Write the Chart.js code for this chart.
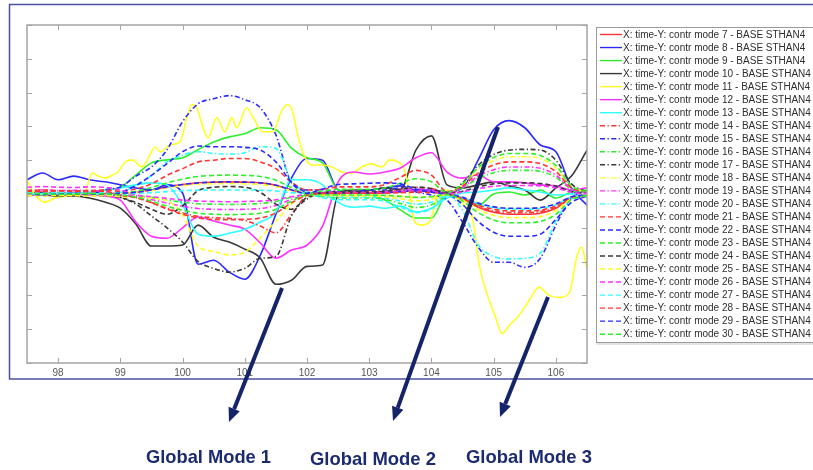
<!DOCTYPE html>
<html lang="en">
<head>
<meta charset="UTF-8">
<title>Contribution modes 7-30 - BASE STHAN4</title>
<script src="https://cdn.jsdelivr.net/npm/chart.js"></script>
<style>
  html, body { margin: 0; padding: 0; background: #fff; }
  .wrap { width: 813px; height: 470px; }
</style>
</head>
<body>
<div class="wrap"><canvas id="modesChart" width="813" height="470"></canvas></div>
<script>
// shared time axis (step 0.25)
const timeGrid = [97.5, 97.75, 98, 98.25, 98.5, 98.75, 99, 99.25, 99.5, 99.75, 100, 100.25, 100.5,
  100.75, 101, 101.25, 101.5, 101.75, 102, 102.25, 102.5, 102.75, 103, 103.25, 103.5, 103.75,
  104, 104.25, 104.5, 104.75, 105, 105.25, 105.5, 105.75, 106, 106.25, 106.5];
const xTicks = [98, 99, 100, 101, 102, 103, 104, 105, 106];
const yTicks = [-5, -4, -3, -2, -1, 0, 1, 2, 3, 4, 5];
const modeNumbers = [7, 8, 9, 10, 11, 12, 13, 14, 15, 16, 17, 18, 19, 20, 21, 22, 23, 24, 25, 26, 27, 28, 29, 30];

const mode7 = [0.02,0.03,0.0,0.02,0.03,0.01,0.02,0.05,0.12,0.21,0.28,0.33,0.35,0.36,0.35,0.33,0.26,0.12,0.02,0.02,0.03,0.03,0.03,0.04,0.07,0.1,0.08,0.01,-0.15,-0.39,-0.54,-0.6,-0.6,-0.57,-0.42,-0.12,-0.03];
const mode8 = [0.42,0.62,0.42,0.53,0.42,0.36,0.27,0.18,0.12,0.27,0.03,-2.08,-1.96,-2.31,-2.52,-1.81,-0.6,0.47,1.05,1.0,0.12,0.06,0.12,0.18,0.24,0.12,0.12,0.06,0.18,1.0,1.9,2.17,1.96,1.45,1.25,0.18,-0.33];
const mode9 = [0.03,0.03,0.0,0.0,0.03,0.12,0.2,0.56,0.92,1.01,1.07,1.31,1.54,1.69,1.78,1.96,1.9,1.36,1.07,0.92,0.12,0.06,-0.03,-0.18,-0.47,-0.71,-0.71,-0.03,-0.12,-0.33,0.0,0.06,-0.03,0.12,-0.12,0.06,0.12];
const mode10 = [-0.03,-0.03,-0.06,-0.06,-0.12,-0.24,-0.42,-0.89,-1.54,-1.54,-1.51,-0.92,-1.28,-1.42,-1.63,-1.9,-2.67,-2.55,-2.14,-2.1,-0.03,0.12,0.12,0.18,0.12,1.3,1.72,0.27,0.18,0.27,0.36,0.24,0.12,-0.18,0.18,0.53,1.3];
// mode 11 is read on its own, finer time points
const mode11Time = [97.5,97.63,97.79,97.95,98.27,98.43,98.55,98.64,98.76,98.87,98.96,99.08,99.19,99.35,99.45,99.56,99.64,99.8,99.96,100.07,100.15,100.23,100.33,100.41,100.55,100.68,100.79,100.87,101.03,101.13,101.29,101.45,101.6,101.69,101.77,101.85,101.97,102.08,102.24,102.4,102.56,102.72,102.88,103.04,103.2,103.33,103.46,103.57,103.65,103.73,103.84,103.97,104.08,104.21,104.37,104.53,104.66,104.77,104.89,105.02,105.14,105.25,105.41,105.57,105.73,105.89,106.05,106.22,106.33,106.41,106.5];
const mode11 = [0.42,-0.03,-0.24,-0.12,-0.03,0.06,0.62,0.53,0.47,0.56,0.65,0.95,1.01,0.8,1.07,1.39,1.25,1.45,1.54,2.26,2.64,2.55,1.96,1.66,2.26,1.84,2.26,1.96,2.55,2.28,1.84,1.84,2.49,2.64,2.43,1.75,1.07,0.86,0.86,0.8,0.65,0.62,0.8,0.89,0.8,1.01,0.95,0.71,-0.03,-0.83,-0.92,-0.83,-0.18,0.12,-0.03,-0.33,-0.71,-2.11,-2.94,-3.59,-4.13,-3.89,-3.59,-3.15,-2.76,-3.0,-3.06,-2.91,-1.9,-1.57,-2.2];
const mode12 = [-0.03,-0.03,0.0,0.0,-0.03,-0.06,-0.18,-0.83,-1.25,-1.31,-1.0,-0.68,-0.8,-0.92,-1.04,-1.45,-1.9,-1.66,-1.51,-0.95,0.36,0.65,0.59,0.65,0.77,1.07,1.22,0.65,0.47,0.56,0.36,0.36,0.33,0.27,0.24,0.12,0.18];
const mode13 = [0.0,0.0,0.03,0.03,0.06,0.12,0.18,0.27,0.33,0.27,-0.33,-1.19,-1.25,-1.16,-1.04,-0.83,-0.53,0.42,0.42,0.27,-0.24,-0.39,-0.36,-0.42,-0.36,-0.53,-0.42,-0.12,0.03,0.06,0.12,0.18,0.12,0.06,-0.03,0.0,0.06];
const mode14 = [0.05,0.06,0.04,0.05,0.06,0.05,-0.03,-0.1,-0.25,-0.42,-0.56,-0.66,-0.7,-0.72,-0.78,-0.95,-1.15,-0.6,-0.05,0.04,0.06,0.06,0.06,0.08,0.14,0.2,0.16,0.02,-0.14,-0.36,-0.5,-0.55,-0.55,-0.52,-0.39,-0.11,-0.03];
const mode15 = [0.03,0.03,0.03,0.0,0.0,0.12,0.21,0.53,0.8,1.31,2.14,2.67,2.82,2.91,2.79,2.55,1.75,0.33,0.12,0.12,0.06,0.06,0.12,0.12,0.18,0.06,-0.03,-0.18,-0.83,-1.57,-2.02,-2.02,-2.17,-1.9,-0.92,-0.12,0.12];
const mode16 = [0.0,-0.02,0.01,0.0,-0.02,0.0,-0.02,-0.05,-0.1,-0.18,-0.24,-0.29,-0.3,-0.31,-0.3,-0.28,-0.22,-0.1,-0.02,-0.08,-0.12,-0.12,-0.12,-0.16,-0.28,-0.4,-0.32,-0.04,0.18,0.46,0.63,0.7,0.7,0.67,0.49,0.14,0.04];
const mode17 = [0.0,0.02,0.0,-0.02,0.0,0.02,-0.1,-0.3,-0.65,-1.0,-1.42,-2.0,-2.2,-2.31,-2.2,-1.9,-1.85,-0.65,-0.15,0.02,0.03,0.03,0.03,0.04,0.07,0.1,0.08,0.01,0.33,0.85,1.17,1.3,1.32,1.3,1.0,0.3,0.06];
const mode18 = [-0.02,0.0,0.02,0.0,-0.02,0.0,0.02,0.05,0.1,0.18,0.24,0.29,0.3,0.31,0.3,0.28,0.22,0.1,0.02,-0.02,-0.03,-0.03,-0.03,-0.04,-0.07,-0.1,-0.08,-0.01,0.28,0.72,0.99,1.1,1.1,1.05,0.77,0.22,0.05];
const mode19 = [0.1,0.12,0.1,0.11,0.1,0.08,-0.02,-0.07,-0.16,-0.27,-0.36,-0.43,-0.45,-0.46,-0.45,-0.43,-0.34,-0.16,-0.02,0.03,0.05,0.05,0.05,0.06,0.11,0.15,0.12,0.02,0.2,0.52,0.72,0.8,0.8,0.76,0.56,0.16,0.04];
const mode20 = [0.0,0.01,0.0,0.02,0.0,0.01,0.05,0.25,0.55,0.95,1.15,1.25,1.2,1.18,1.22,1.4,1.35,0.4,0.05,-0.06,-0.09,-0.09,-0.09,-0.12,-0.21,-0.3,-0.24,-0.03,-0.48,-1.5,-1.85,-1.92,-1.9,-1.75,-0.8,-0.15,0.0];
const mode21 = [0.1,0.12,0.1,0.09,0.1,0.12,0.08,0.15,0.3,0.55,0.75,0.95,1.0,1.05,1.05,0.95,0.75,0.35,0.12,0.14,0.21,0.21,0.21,0.28,0.49,0.7,0.56,0.07,0.24,0.62,0.86,0.95,0.95,0.9,0.66,0.19,0.05];
const mode22 = [0.0,0.02,0.0,0.0,0.02,0.0,0.05,0.25,0.55,0.9,1.25,1.42,1.4,1.4,1.38,1.3,0.95,0.35,0.05,0.02,0.03,0.03,0.03,0.04,0.07,0.1,0.08,0.01,-0.31,-0.81,-1.13,-1.25,-1.25,-1.19,-0.75,-0.25,-0.06];
const mode23 = [0.02,0.0,0.01,0.03,0.0,0.02,0.03,0.08,0.19,0.33,0.44,0.52,0.55,0.56,0.55,0.52,0.41,0.19,0.03,0.09,0.14,0.14,0.14,0.18,0.32,0.45,0.36,0.05,0.3,0.78,1.08,1.2,1.2,1.14,0.84,0.24,0.06];
const mode24 = [-0.05,-0.04,-0.06,-0.05,-0.04,-0.06,-0.1,-0.25,-0.45,-0.6,-0.35,0.1,0.2,0.22,0.2,0.05,-0.3,-0.45,-0.1,0.04,0.06,0.06,0.06,0.08,0.14,0.2,0.16,0.02,0.08,0.21,0.3,0.33,0.33,0.31,0.23,0.07,0.02];
const mode25 = [-0.05,-0.06,-0.04,-0.05,-0.06,-0.05,-0.08,-0.1,-0.12,-0.2,-0.6,-1.55,-1.7,-1.8,-1.72,-1.3,-0.8,-0.3,-0.05,-0.04,-0.06,-0.06,-0.06,-0.08,-0.14,-0.2,-0.16,-0.02,-0.18,-0.46,-0.63,-0.7,-0.7,-0.67,-0.49,-0.14,-0.04];
const mode26 = [0.2,0.22,0.2,0.19,0.21,0.2,0.12,-0.03,-0.08,-0.13,-0.18,-0.21,-0.22,-0.23,-0.22,-0.21,-0.17,-0.08,-0.01,0.02,0.03,0.03,0.03,0.04,0.07,0.1,0.08,0.01,0.06,0.16,0.23,0.25,0.25,0.24,0.18,0.05,0.01];
const mode27 = [0.05,0.06,0.04,0.05,0.06,0.05,0.01,0.02,0.04,0.07,0.1,0.11,0.12,0.12,0.12,0.11,0.09,0.04,0.01,-0.11,-0.17,-0.17,-0.17,-0.22,-0.39,-0.55,-0.44,-0.06,-0.11,-0.29,-0.41,-0.45,-0.45,-0.43,-0.32,-0.09,-0.02];
const mode28 = [0.08,0.07,0.09,0.08,0.07,0.08,-0.04,-0.11,-0.26,-0.45,-0.6,-0.71,-0.75,-0.76,-0.75,-0.71,-0.56,-0.26,-0.04,0.01,0.02,0.02,0.02,0.02,0.04,0.05,0.04,0.0,-0.13,-0.33,-0.45,-0.5,-0.5,-0.48,-0.35,-0.1,-0.03];
const mode29 = [0.0,-0.02,0.0,0.02,0.0,-0.01,0.02,0.05,0.12,0.21,0.28,0.33,0.35,0.36,0.35,0.33,0.26,0.12,0.02,0.15,0.28,0.3,0.32,0.33,0.3,0.15,0.05,0.0,-0.1,-0.27,-0.38,-0.42,-0.42,-0.4,-0.29,-0.08,-0.02];
const mode30 = [0.0,0.01,-0.01,0.0,0.01,0.0,-0.03,-0.09,-0.21,-0.36,-0.48,-0.57,-0.6,-0.61,-0.6,-0.57,-0.45,-0.21,-0.03,-0.02,-0.03,-0.03,-0.03,-0.04,-0.07,-0.1,-0.08,-0.01,-0.21,-0.55,-0.77,-0.85,-0.85,-0.81,-0.6,-0.17,-0.04];

const modeValues = [mode7, mode8, mode9, mode10, mode11, mode12, mode13, mode14, mode15, mode16, mode17, mode18,
  mode19, mode20, mode21, mode22, mode23, mode24, mode25, mode26, mode27, mode28, mode29, mode30];

// matlab colour order r b g k y m c
const lineColors = ['#ff3434', '#2a2aff', '#2cf02c', '#383838', '#ffff22', '#ff30ff', '#30ffff'];
const dashDot = [5, 2.5, 1.3, 2.5];
const dashed = [5, 3];

const datasets = modeNumbers.map((n, i) => {
  const xs = n === 11 ? mode11Time : timeGrid;
  return {
    label: 'X: time-Y: contr mode ' + n + ' - BASE STHAN4',
    data: xs.map((t, k) => ({ x: t, y: modeValues[i][k] })),
    borderColor: lineColors[i % 7],
    borderWidth: 1.6,
    borderDash: n <= 13 ? [] : (n <= 20 ? dashDot : dashed),
    pointRadius: 0,
    fill: false,
    cubicInterpolationMode: 'monotone',
    order: modeNumbers.length - i
  };
});

const FONT = '"Liberation Sans", Arial, sans-serif';

function drawArrow(ctx, x1, y1, x2, y2) {
  const ang = Math.atan2(y2 - y1, x2 - x1);
  const head = 14, half = 6;
  const bx = x2 - head * Math.cos(ang), by = y2 - head * Math.sin(ang);
  ctx.lineWidth = 4;
  ctx.beginPath();
  ctx.moveTo(x1, y1);
  ctx.lineTo(bx, by);
  ctx.stroke();
  ctx.beginPath();
  ctx.moveTo(x2, y2);
  ctx.lineTo(bx + half * Math.sin(ang), by - half * Math.cos(ang));
  ctx.lineTo(bx - half * Math.sin(ang), by + half * Math.cos(ang));
  ctx.closePath();
  ctx.fill();
}

function fitText(ctx, text, x, y, w) {
  ctx.font = 'bold 19px ' + FONT;
  const m = ctx.measureText(text).width;
  ctx.save();
  ctx.translate(x, y);
  ctx.scale(w / m, 1);
  ctx.fillText(text, 0, 0);
  ctx.restore();
}

const decorations = {
  id: 'decorations',
  beforeDraw(chart) {
    const ctx = chart.ctx;
    ctx.save();
    ctx.fillStyle = '#fff';
    ctx.fillRect(0, 0, chart.width, chart.height);
    ctx.restore();
  },
  afterDraw(chart) {
    const ctx = chart.ctx;
    const a = chart.chartArea;
    const xs = chart.scales.x, ys = chart.scales.y;
    ctx.save();

    // axes box + inward ticks
    ctx.strokeStyle = '#a4a4a4';
    ctx.lineWidth = 1.5;
    ctx.strokeRect(a.left, a.top, a.right - a.left, a.bottom - a.top);
    ctx.lineWidth = 1;
    ctx.beginPath();
    xTicks.forEach(v => {
      const px = Math.round(xs.getPixelForValue(v)) + 0.5;
      ctx.moveTo(px, a.bottom); ctx.lineTo(px, a.bottom - 5);
      ctx.moveTo(px, a.top); ctx.lineTo(px, a.top + 5);
    });
    yTicks.forEach(v => {
      const py = Math.round(ys.getPixelForValue(v)) + 0.5;
      ctx.moveTo(a.left, py); ctx.lineTo(a.left + 5, py);
      ctx.moveTo(a.right, py); ctx.lineTo(a.right - 5, py);
    });
    ctx.stroke();

    // legend
    const lx = 596.5, ly = 27.5;
    ctx.fillStyle = '#fff';
    ctx.fillRect(lx, ly, 240, 315);
    ctx.strokeStyle = '#9a9a9a';
    ctx.strokeRect(lx, ly, 240, 315);
    ctx.strokeStyle = '#c8c8c8';
    ctx.beginPath(); ctx.moveTo(lx, ly + 316.5); ctx.lineTo(813, ly + 316.5); ctx.stroke();
    ctx.font = '10px ' + FONT;
    ctx.textBaseline = 'middle';
    chart.data.datasets.forEach((d, i) => {
      const y = 34.5 + i * 13.03;
      ctx.strokeStyle = d.borderColor;
      ctx.lineWidth = 1.4;
      ctx.setLineDash(d.borderDash);
      ctx.beginPath(); ctx.moveTo(600, y); ctx.lineTo(622, y); ctx.stroke();
      ctx.setLineDash([]);
      ctx.fillStyle = '#2e2e2e';
      ctx.fillText(d.label, 623, y + 0.5);
    });

    // outer frame
    ctx.strokeStyle = '#4c50a0';
    ctx.lineWidth = 1.5;
    ctx.beginPath();
    ctx.moveTo(815, 4.5); ctx.lineTo(9.5, 4.5); ctx.lineTo(9.5, 379); ctx.lineTo(815, 379);
    ctx.stroke();

    // arrows and captions
    ctx.strokeStyle = '#14236a';
    ctx.fillStyle = '#14236a';
    drawArrow(ctx, 282, 288, 229, 422);
    drawArrow(ctx, 498, 127, 393, 421);
    drawArrow(ctx, 548, 297, 500, 417);
    ctx.fillStyle = '#1c2b70';
    ctx.textBaseline = 'alphabetic';
    fitText(ctx, 'Global Mode 1', 146, 463, 125);
    fitText(ctx, 'Global Mode 2', 310, 465, 126);
    fitText(ctx, 'Global Mode 3', 466, 463, 126);
    ctx.restore();
  }
};

new Chart(document.getElementById('modesChart').getContext('2d'), {
  type: 'line',
  data: { datasets: datasets },
  options: {
    responsive: false,
    animation: false,
    events: [],
    layout: { padding: { left: 27, top: 25, right: 226, bottom: 92 } },
    plugins: { legend: { display: false }, tooltip: { enabled: false } },
    scales: {
      x: {
        type: 'linear',
        min: 97.5,
        max: 106.5,
        afterBuildTicks: axis => { axis.ticks = xTicks.map(v => ({ value: v })); },
        afterFit: scale => { scale.height = 15; },
        grid: { display: false, drawTicks: false },
        border: { display: false },
        ticks: { color: '#555', font: { size: 10, family: FONT }, padding: 4, autoSkip: false, maxRotation: 0 }
      },
      y: {
        type: 'linear',
        min: -5,
        max: 5,
        display: false
      }
    }
  },
  plugins: [decorations]
});
</script>
</body>
</html>
